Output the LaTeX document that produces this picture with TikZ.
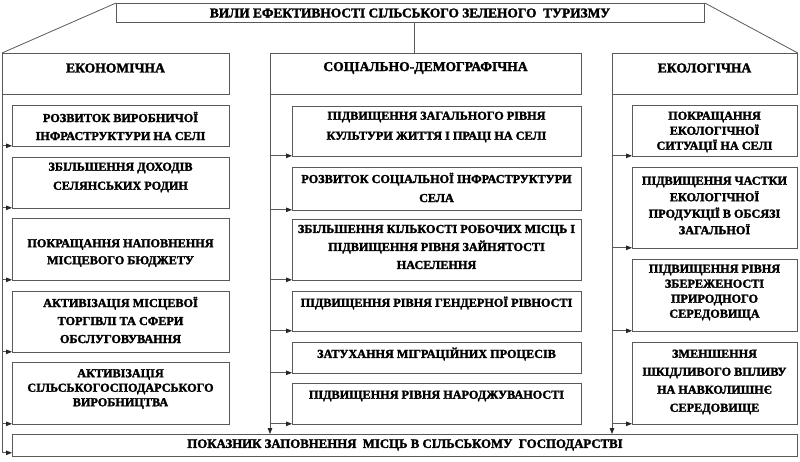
\documentclass[tikz,border=0pt]{standalone}
\usepackage{fontspec}
\setmainfont{Liberation Serif}[BoldFeatures={FakeBold=2}]
\usetikzlibrary{arrows.meta}
\begin{document}
\begin{tikzpicture}[x=1pt,y=-1pt,
  box/.style={draw=black!65, line width=0.8pt, anchor=north west, inner sep=0pt},
  lbl/.style={font=\bfseries\fontsize{12.2}{#1}\selectfont, align=center, inner sep=0pt, text=black},
  lbl/.default=17,
  hdr/.style={font=\bfseries\fontsize{13.6}{15}\selectfont, align=center, inner sep=0pt, text=black},
  ln/.style={draw=black!65, line width=0.8pt},
  arr/.style={draw=black!65, line width=0.8pt, -{Triangle[length=6pt,width=4.5pt,color=black!85,fill=black!85]}}]
\useasboundingbox[fill=white] (0,0) rectangle (800,461);
% title
\node[box, minimum width=588pt, minimum height=19pt] (title) at (116,3) {};
\node[hdr, font=\bfseries\fontsize{13.4}{15}\selectfont] (ttitle) at (410,13) {ВИЛИ ЕФЕКТИВНОСТІ СІЛЬСЬКОГО ЗЕЛЕНОГО\ \ ТУРИЗМУ};
% headers
\node[box, minimum width=227pt, minimum height=41pt] (hE) at (2,53) {};
\node[hdr] (thE) at (115.5,68) {ЕКОНОМІЧНА};
\node[box, minimum width=311pt, minimum height=41pt] (hS) at (270,53) {};
\node[hdr] (thS) at (425.5,68) {СОЦІАЛЬНО-ДЕМОГРАФІЧНА};
\node[box, minimum width=185pt, minimum height=41pt] (hC) at (612,53) {};
\node[hdr] (thC) at (704.5,68) {ЕКОЛОГІЧНА};
% connectors from title
\coordinate (vx) at (414,0);
\draw[ln] (title.south -| vx) -- (hS.north -| vx);
\draw[ln] (title.north west) -- (hE.north west);
\draw[ln] (title.north east) -- (hC.north east);
% bottom box
\node[box, minimum width=785pt, minimum height=22pt] (bot) at (12,434) {};
\node[hdr, font=\bfseries\fontsize{12.8}{15}\selectfont] (tbot) at (405,445) {ПОКАЗНИК ЗАПОВНЕННЯ\ \ МІСЦЬ В СІЛЬСЬКОМУ\ \ ГОСПОДАРСТВІ};
% left column
\node[box, minimum width=217pt, minimum height=41pt] (e1) at (12,105) {};
\node[lbl=18] (te1) at (120.5,126) {РОЗВИТОК ВИРОБНИЧОЇ\\ІНФРАСТРУКТУРИ НА СЕЛІ};
\node[box, minimum width=217pt, minimum height=51pt] (e2) at (12,157) {};
\node[lbl=19] (te2) at (120.5,177.5) {ЗБІЛЬШЕННЯ ДОХОДІВ\\СЕЛЯНСЬКИХ РОДИН};
\node[box, minimum width=217pt, minimum height=62pt] (e3) at (12,218) {};
\node[lbl=17] (te3) at (120.5,253) {ПОКРАЩАННЯ НАПОВНЕННЯ\\МІСЦЕВОГО БЮДЖЕТУ};
\node[box, minimum width=217pt, minimum height=61pt] (e4) at (12,291) {};
\node[lbl=18] (te4) at (120.5,320) {АКТИВІЗАЦІЯ МІСЦЕВОЇ\\ТОРГІВЛІ ТА СФЕРИ\\ОБСЛУГОВУВАННЯ};
\node[box, minimum width=217pt, minimum height=62pt] (e5) at (12,362) {};
\node[lbl=14.5] (te5) at (120.5,389) {АКТИВІЗАЦІЯ\\СІЛЬСЬКОГОСПОДАРСЬКОГО\\ВИРОБНИЦТВА};
% middle column
\node[box, minimum width=289pt, minimum height=50pt] (s1) at (292,106) {};
\node[lbl=20] (ts1) at (436.5,127) {ПІДВИЩЕННЯ ЗАГАЛЬНОГО РІВНЯ\\КУЛЬТУРИ ЖИТТЯ І ПРАЦІ НА СЕЛІ};
\node[box, minimum width=289pt, minimum height=43pt] (s2) at (292,167) {};
\node[lbl=19] (ts2) at (436.5,187.5) {РОЗВИТОК СОЦІАЛЬНОЇ ІНФРАСТРУКТУРИ\\СЕЛА};
\node[box, minimum width=289pt, minimum height=61pt] (s3) at (292,219) {};
\node[lbl=18] (ts3) at (436.5,247) {ЗБІЛЬШЕННЯ КІЛЬКОСТІ РОБОЧИХ МІСЦЬ І\\ПІДВИЩЕННЯ РІВНЯ ЗАЙНЯТОСТІ\\НАСЕЛЕННЯ};
\node[box, minimum width=289pt, minimum height=40pt] (s4) at (292,291) {};
\node[lbl] (ts4) at (436.5,303) {ПІДВИЩЕННЯ РІВНЯ ГЕНДЕРНОЇ РІВНОСТІ};
\node[box, minimum width=289pt, minimum height=31pt] (s5) at (292,342) {};
\node[lbl] (ts5) at (436.5,354) {ЗАТУХАННЯ МІГРАЦІЙНИХ ПРОЦЕСІВ};
\node[box, minimum width=289pt, minimum height=41pt] (s6) at (292,383) {};
\node[lbl] (ts6) at (436.5,396) {ПІДВИЩЕННЯ РІВНЯ НАРОДЖУВАНОСТІ};
% right column
\node[box, minimum width=165pt, minimum height=51pt] (c1) at (632,105) {};
\node[lbl=15] (tc1) at (714.5,132) {ПОКРАЩАННЯ\\ЕКОЛОГІЧНОЇ\\СИТУАЦІЇ НА СЕЛІ};
\node[box, minimum width=165pt, minimum height=81pt] (c2) at (632,167) {};
\node[lbl=16.5] (tc2) at (714.5,205.5) {ПІДВИЩЕННЯ ЧАСТКИ\\ЕКОЛОГІЧНОЇ\\ПРОДУКЦІЇ В ОБСЯЗІ\\ЗАГАЛЬНОЇ};
\node[box, minimum width=165pt, minimum height=72pt] (c3) at (632,259) {};
\node[lbl=15] (tc3) at (714.5,292.5) {ПІДВИЩЕННЯ РІВНЯ\\ЗБЕРЕЖЕНОСТІ\\ПРИРОДНОГО\\СЕРЕДОВИЩА};
\node[box, minimum width=165pt, minimum height=82pt] (c4) at (632,342) {};
\node[lbl=18] (tc4) at (714.5,382) {ЗМЕНШЕННЯ\\ШКІДЛИВОГО ВПЛИВУ\\НА НАВКОЛИШНЄ\\СЕРЕДОВИЩЕ};
% trunk lines
\draw[arr] (hE.south west) |- ([yshift=4pt]bot.south west);
\draw[arr] (hS.south west) -- (hS.south west |- bot.north);
\draw[arr] (hC.south west) -- (hC.south west |- bot.north);
% branch arrows
\foreach \b in {e1,e2,e3,e4,e5}{
  \draw[arr] ([yshift=1pt]\b.south west -| hE.west) -- ([yshift=1pt]\b.south west);
}
\foreach \b in {s1,s2,s3,s4,s5,s6}{
  \draw[arr] ([yshift=1pt]\b.south west -| hS.west) -- ([yshift=1pt]\b.south west);
}
\foreach \b in {c1,c2,c3,c4}{
  \draw[arr] ([yshift=1pt]\b.south west -| hC.west) -- ([yshift=1pt]\b.south west);
}
\end{tikzpicture}
\end{document}
